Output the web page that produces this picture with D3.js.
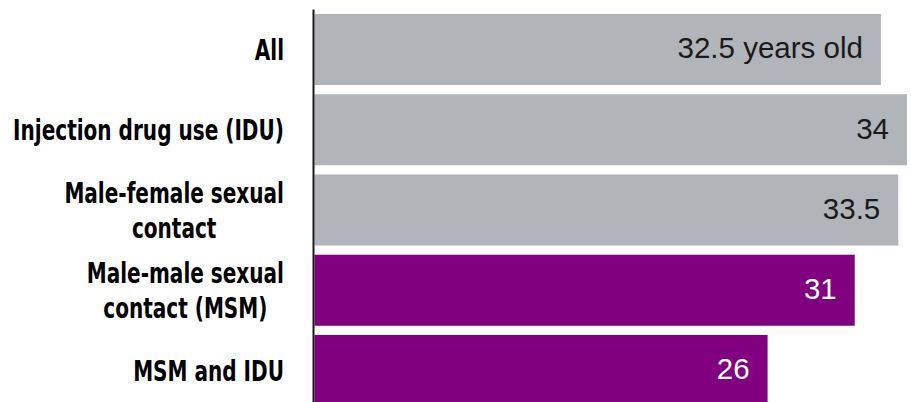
<!DOCTYPE html>
<html>
<head>
<meta charset="utf-8">
<script src="https://cdn.jsdelivr.net/npm/d3@7"></script>
<style>
  html, body { margin: 0; padding: 0; background: #ffffff; }
  svg { display: block; }
</style>
</head>
<body>
<svg id="chart" width="911" height="402"></svg>
<script>
// ---- data ----
const categories = [
  "All",
  "Injection drug use (IDU)",
  "Male-female sexual contact",
  "Male-male sexual contact (MSM)",
  "MSM and IDU"
];
const labelLines = [
  ["All"],
  ["Injection drug use (IDU)"],
  ["Male-female sexual", "contact"],
  ["Male-male sexual", "contact (MSM)"],
  ["MSM and IDU"]
];
const values = [32.5, 34, 33.5, 31, 26];
const valueLabels = ["32.5 years old", "34", "33.5", "31", "26"];
const highlighted = [false, false, false, true, true];

// ---- chart ----
const svg = d3.select("#chart");

const x = d3.scaleLinear().domain([0, 34]).range([314.5, 907]);
const y = d3.scaleBand().domain(categories).range([9.4, 410.6])
  .paddingInner(0.115).paddingOuter(0.0575);

const grey = "#b1b4b8", purple = "#800080";

const rows = categories.map((c, i) => ({
  cat: c, v: values[i], lab: valueLabels[i], hl: highlighted[i], lines: labelLines[i]
}));

svg.append("g").selectAll("rect").data(rows).join("rect")
  .attr("x", x(0))
  .attr("y", d => y(d.cat))
  .attr("width", d => x(d.v) - x(0))
  .attr("height", y.bandwidth())
  .attr("fill", d => d.hl ? purple : grey);

// axis line
svg.append("line")
  .attr("x1", 313.5).attr("x2", 313.5)
  .attr("y1", y.range()[0]).attr("y2", y.range()[1])
  .attr("stroke", "#1a1a1a").attr("stroke-width", 2);

// value labels
svg.append("g").selectAll("text").data(rows).join("text")
  .attr("x", d => x(d.v) - 18)
  .attr("y", d => y(d.cat) + y.bandwidth() / 2)
  .attr("dy", "0.3em")
  .attr("text-anchor", "end")
  .attr("font-family", "'Liberation Sans', Arial, sans-serif")
  .attr("font-size", 29.5)
  .attr("fill", d => d.hl ? "#ffffff" : "#1a1a1a")
  .text(d => d.lab);

// category labels: block right-aligned at 284, lines centered within block
const labelRight = 284;
const lineH = 35;
const refWidestWidth = 271; // width of "Injection drug use (IDU)" in the reference
const lg = svg.append("g")
  .attr("font-family", "'DejaVu Sans', sans-serif")
  .style("font-stretch", "condensed")
  .attr("font-weight", "bold")
  .attr("font-size", 28)
  .attr("fill", "#000");

// measure to find horizontal squeeze so the condensed look matches
const probe = lg.append("text").text(labelLines[1][0]);
const sx = Math.min(1, refWidestWidth / probe.node().getComputedTextLength());
probe.remove();

rows.forEach(d => {
  const cy = y(d.cat) + y.bandwidth() / 2;
  const n = d.lines.length;
  const g = lg.append("g");
  const t = g.append("text").attr("text-anchor", "middle");
  const spans = d.lines.map((ln, j) =>
    t.append("tspan")
      .attr("y", cy + 10.5 + (j - (n - 1) / 2) * lineH)
      .text(ln));
  const widths = spans.map(s => s.node().getComputedTextLength());
  const maxW = d3.max(widths) * sx;
  const cx = labelRight - maxW / 2;
  spans.forEach(s => s.attr("x", 0));
  g.attr("transform", `translate(${cx},0) scale(${sx},1)`);
});
</script>
</body>
</html>
